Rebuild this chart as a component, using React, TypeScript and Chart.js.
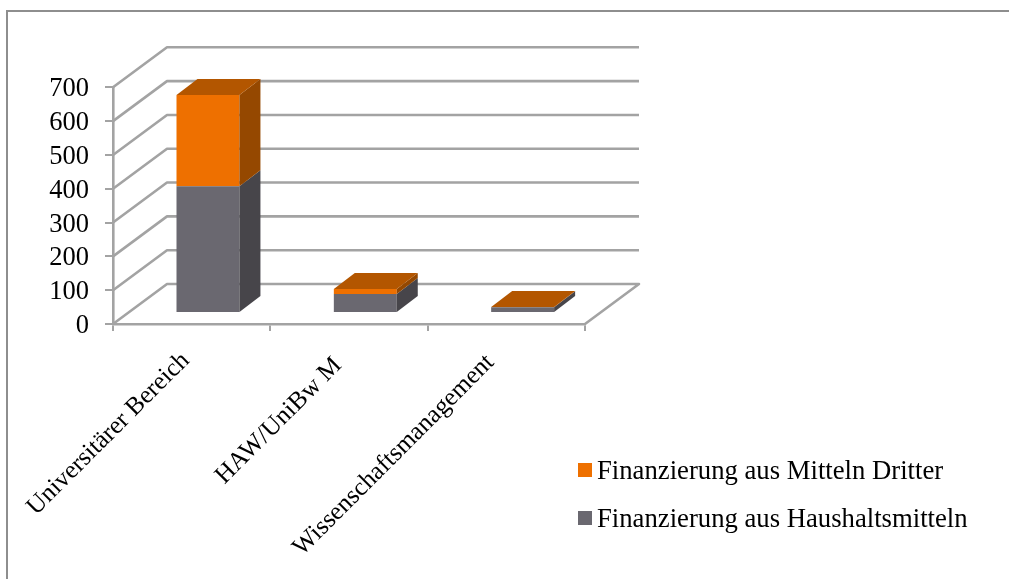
import React, { useEffect, useRef } from "react";
import { Chart, registerables } from "chart.js";

Chart.register(...registerables);

const categories = ["Universitärer Bereich", "HAW/UniBw M", "Wissenschaftsmanagement"];
const haushalt = [375, 56, 17];
const dritte = [270, 15, 1];
const seriesNames = ["Finanzierung aus Haushaltsmitteln", "Finanzierung aus Mitteln Dritter"];
const yMax = 700;
const yStep = 100;

const FONT = "'Liberation Serif', 'Times New Roman', serif";
const GRID = "#a3a3a3";
const COLORS = [
  { front: "#6a6870", side: "#47454a", top: "#57555c" },
  { front: "#ee7000", side: "#954800", top: "#b35600" },
];
const WALL = { dx: 54, dy: 40 };
const BAR = { x: 16.3, y: -11, dx: 21, dy: 16 };
const LABEL_SHIFT = [[-6, 1], [-11, 6], [-16, 3]];
const LEGEND = { x: 578, y: 463, box: 14, textX: 597, rowGap: 48 };

const poly = (ctx: CanvasRenderingContext2D, pts: number[][], fill: string) => {
  ctx.beginPath();
  pts.forEach((p, i) => (i ? ctx.lineTo(p[0], p[1]) : ctx.moveTo(p[0], p[1])));
  ctx.closePath();
  ctx.fillStyle = fill;
  ctx.fill();
};

const threeD = {
  id: "threeD",
  afterLayout(chart: any) {
    chart.scales.x.getLabelItems(chart.chartArea).forEach((item: any, i: number) => {
      item.options.translation[0] += LABEL_SHIFT[i][0];
      item.options.translation[1] += LABEL_SHIFT[i][1];
    });
  },
  beforeDraw(chart: any) {
    const { ctx, width, height } = chart;
    ctx.save();
    ctx.fillStyle = "#fff";
    ctx.fillRect(0, 0, width, height);
    ctx.strokeStyle = "#8e8e8e";
    ctx.lineWidth = 2;
    ctx.strokeRect(7, 11, width + 50, height + 50);
    ctx.restore();
  },
  beforeDatasetsDraw(chart: any) {
    const { ctx, chartArea, scales } = chart;
    const { left, right } = chartArea;
    ctx.save();
    ctx.strokeStyle = GRID;
    ctx.lineWidth = 2.6;
    ctx.lineJoin = "round";
    scales.y.ticks.forEach((t: any) => {
      const y = scales.y.getPixelForValue(t.value);
      ctx.beginPath();
      ctx.moveTo(left, y);
      ctx.lineTo(left + WALL.dx, y - WALL.dy);
      ctx.lineTo(right + WALL.dx, y - WALL.dy);
      if (t.value === 0) ctx.lineTo(right, y);
      ctx.stroke();
    });
    ctx.restore();
    ctx.save();
    ctx.translate(BAR.x, BAR.y);
  },
  afterDatasetsDraw(chart: any) {
    const { ctx } = chart;
    ctx.restore();
    ctx.save();
    ctx.translate(BAR.x, BAR.y);
    const n = chart.data.datasets.length;
    chart.data.labels.forEach((_: string, i: number) => {
      for (let d = 0; d < n; d++) {
        const b = chart.getDatasetMeta(d).data[i];
        const half = b.width / 2;
        const xr = b.x + half;
        const xl = b.x - half;
        poly(ctx, [[xr, b.y], [xr + BAR.dx, b.y - BAR.dy], [xr + BAR.dx, b.base - BAR.dy], [xr, b.base]], COLORS[d].side);
        if (d === n - 1) {
          poly(ctx, [[xl, b.y], [xl + BAR.dx, b.y - BAR.dy], [xr + BAR.dx, b.y - BAR.dy], [xr, b.y]], COLORS[d].top);
        }
      }
    });
    ctx.restore();
  },
  afterDraw(chart: any) {
    const { ctx } = chart;
    const sets = chart.data.datasets;
    ctx.save();
    ctx.font = `26.7px ${FONT}`;
    ctx.textBaseline = "alphabetic";
    ctx.textAlign = "left";
    sets.slice().reverse().forEach((ds: any, r: number) => {
      const y = LEGEND.y + r * LEGEND.rowGap;
      ctx.fillStyle = ds.backgroundColor;
      ctx.fillRect(LEGEND.x, y, LEGEND.box, LEGEND.box);
      ctx.fillStyle = "#000";
      ctx.fillText(ds.label, LEGEND.textX, y + LEGEND.box + 2);
    });
    ctx.restore();
  },
};

export default function App() {
  const ref = useRef<HTMLCanvasElement>(null);
  useEffect(() => {
    const chart = new Chart(ref.current as HTMLCanvasElement, {
      type: "bar",
      data: {
        labels: categories,
        datasets: [
          { label: seriesNames[0], data: haushalt, backgroundColor: COLORS[0].front, stack: "s", clip: false as any },
          { label: seriesNames[1], data: dritte, backgroundColor: COLORS[1].front, stack: "s", clip: false as any },
        ],
      },
      plugins: [threeD],
      options: {
        responsive: false,
        animation: false,
        barPercentage: 0.4,
        categoryPercentage: 1,
        layout: { padding: { left: 0, top: 87.3, right: 424, bottom: 0 } },
        plugins: {
          title: { display: false },
          tooltip: { enabled: false },
          legend: { display: false },
        },
        scales: {
          x: {
            stacked: true,
            afterFit: (s: any) => {
              s.height = 255;
              s.paddingLeft = 0;
              s.paddingRight = 0;
            },
            border: { color: GRID, width: 2.6 },
            grid: { drawOnChartArea: false, drawTicks: true, tickLength: 7, color: GRID, lineWidth: 2 },
            ticks: {
              autoSkip: false,
              minRotation: 45,
              maxRotation: 45,
              padding: 14,
              color: "#000",
              font: { family: FONT, size: 25.3 },
            },
          },
          y: {
            stacked: true,
            min: 0,
            max: yMax,
            afterFit: (s: any) => {
              s.width = 113;
            },
            border: { color: GRID, width: 2.6 },
            grid: { drawOnChartArea: false, drawTicks: true, tickLength: 8, color: GRID, lineWidth: 2 },
            ticks: { autoSkip: false, stepSize: yStep, padding: 16, labelOffset: 2, color: "#000", font: { family: FONT, size: 26.5 } },
          },
        },
      },
    } as any);
    return () => chart.destroy();
  }, []);
  return (
    <div style={{ position: "absolute", left: 0, top: 0, width: 1009, height: 579, overflow: "hidden" }}>
      <canvas ref={ref} width={1009} height={579} style={{ display: "block", filter: "blur(0.35px)" }} />
    </div>
  );
}
